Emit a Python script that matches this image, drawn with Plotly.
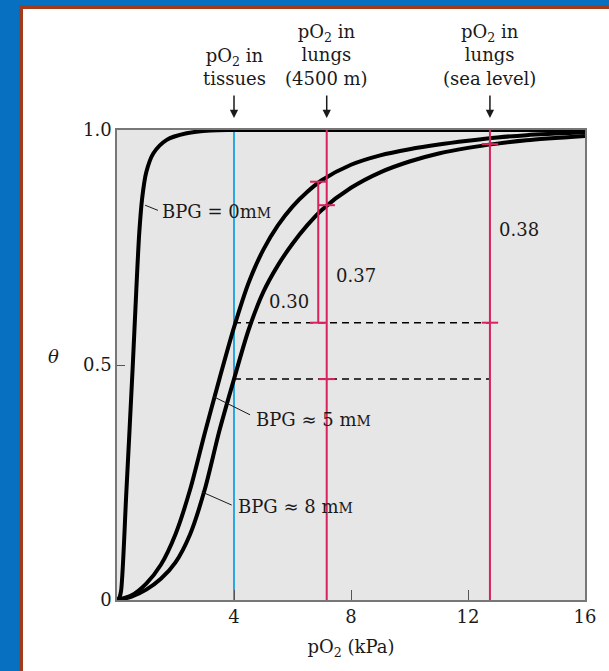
import plotly.graph_objects as go

# Oxygen-binding curves of hemoglobin at three BPG concentrations
po2_bpg0 = [0, 0.08, 0.14, 0.32, 0.54, 0.66, 0.76, 0.86, 1.0, 1.24, 1.7, 2.38, 3.2, 4.0, 16.0]
theta_bpg0 = [0, 0.005, 0.02, 0.23, 0.50, 0.66, 0.78, 0.855, 0.91, 0.95, 0.979, 0.993, 0.999, 1.0, 1.0]

po2_bpg5 = [0, 0.5, 1.0, 1.5, 2.0, 2.5, 3.0, 3.5, 4.0, 4.5, 5.0, 5.5, 6.0, 6.5, 7.0, 8.0, 9.0,
            10.0, 11.0, 12.0, 13.0, 14.0, 16.0]
theta_bpg5 = [0, 0.01, 0.035, 0.075, 0.14, 0.235, 0.355, 0.47, 0.58, 0.675, 0.745, 0.797, 0.837, 0.868, 0.893,
              0.926, 0.946, 0.959, 0.969, 0.977, 0.984, 0.989, 0.995]

po2_bpg8 = [0, 0.5, 1.0, 1.5, 2.0, 2.5, 3.0, 3.5, 4.0, 4.5, 5.0, 5.5, 6.0, 6.5, 7.0, 8.0, 9.0,
            10.0, 11.0, 12.0, 13.0, 14.0, 16.0]
theta_bpg8 = [0, 0.007, 0.022, 0.045, 0.08, 0.14, 0.235, 0.36, 0.47, 0.575, 0.655, 0.712, 0.758, 0.797, 0.83,
              0.877, 0.91, 0.933, 0.95, 0.962, 0.971, 0.978, 0.987]

# Reference pO2 values (kPa)
po2_tissues = 4.0
po2_lungs_4500 = 7.17
po2_lungs_sea = 12.75
po2_bracket_alt5 = 6.88

# Fractional saturation at those pressures
theta_tissue_bpg5 = 0.59
theta_tissue_bpg8 = 0.47
theta_sea_bpg5 = 0.97
theta_alt_bpg5 = 0.89
theta_alt_bpg8 = 0.84

# Axis ticks
x_ticks = [4, 8, 12, 16]
x_tick_text = ["4", "8", "12", "16"]
y_ticks = [0, 0.5, 1.0]
y_tick_text = ["0", "0.5", "1.0"]

FONT = "DejaVu Serif"
FS = 18
INK = "#1a1a1a"
BLUE = "#2aa6e0"
RED = "#d8225c"
SC = '<span style="font-size:14px">M</span>'  # small-capital M for "mM"

fig = go.Figure()

# vertical line at tissue pO2
fig.add_trace(go.Scatter(x=[po2_tissues, po2_tissues], y=[0, 1], mode="lines",
                         line=dict(color=BLUE, width=2), hoverinfo="skip"))

# saturation curves
for xs, ys in [(po2_bpg0, theta_bpg0), (po2_bpg5, theta_bpg5), (po2_bpg8, theta_bpg8)]:
    fig.add_trace(go.Scatter(x=xs, y=ys, mode="lines", cliponaxis=False,
                             line=dict(color="black", width=4, shape="spline", smoothing=0.8),
                             hoverinfo="skip"))

# dashed saturation levels in the tissues
for th in [theta_tissue_bpg5, theta_tissue_bpg8]:
    fig.add_trace(go.Scatter(x=[po2_tissues, po2_lungs_sea], y=[th, th], mode="lines",
                             line=dict(color="black", width=1.5, dash="7px,5px"), hoverinfo="skip"))

# lung pO2 lines
for xv in [po2_lungs_4500, po2_lungs_sea]:
    fig.add_trace(go.Scatter(x=[xv, xv], y=[0, 1], mode="lines",
                             line=dict(color=RED, width=2), hoverinfo="skip"))

# bracket for the 4500 m / 5 mM case
fig.add_trace(go.Scatter(x=[po2_bracket_alt5, po2_bracket_alt5], y=[theta_tissue_bpg5, theta_alt_bpg5],
                         mode="lines", line=dict(color=RED, width=2), hoverinfo="skip"))

# bracket caps
cap_hw = 0.28
caps = [(po2_bracket_alt5, theta_alt_bpg5), (po2_bracket_alt5, theta_tissue_bpg5),
        (po2_lungs_4500, theta_alt_bpg8), (po2_lungs_4500, theta_tissue_bpg8),
        (po2_lungs_sea, theta_sea_bpg5), (po2_lungs_sea, theta_tissue_bpg5)]
for cx, cy in caps:
    fig.add_trace(go.Scatter(x=[cx - cap_hw, cx + cap_hw], y=[cy, cy], mode="lines",
                             line=dict(color=RED, width=2), hoverinfo="skip"))

# leader lines from curve labels
leaders = [((0.96, 0.840), (1.40, 0.829)),
           ((3.29, 0.433), (4.55, 0.394)),
           ((2.90, 0.230), (3.92, 0.202))]
for (x0, y0), (x1, y1) in leaders:
    fig.add_trace(go.Scatter(x=[x0, x1], y=[y0, y1], mode="lines",
                             line=dict(color=INK, width=1), hoverinfo="skip"))

annotations = []
txt = dict(family=FONT, size=FS, color=INK)

# curve labels
for text, x, y in [("BPG = 0m" + SC, 1.48, 0.826),
                   ("BPG \u2248 5 m" + SC, 4.70, 0.385),
                   ("BPG \u2248 8 m" + SC, 4.06, 0.198)]:
    annotations.append(dict(x=x, y=y, xref="x", yref="y", text=text, showarrow=False,
                            xanchor="left", yanchor="middle", font=txt))

# difference labels
diff_labels = [(theta_alt_bpg5 - theta_tissue_bpg5, 5.88, 0.635, "center"),
               (theta_alt_bpg8 - theta_tissue_bpg8, 7.42, 0.691, "left"),
               (theta_sea_bpg5 - theta_tissue_bpg5, 12.98, 0.789, "left")]
for val, x, y, anc in diff_labels:
    annotations.append(dict(x=x, y=y, xref="x", yref="y", text=f"{val:.2f}", showarrow=False,
                            xanchor=anc, yanchor="middle", font=txt))

# top captions with arrows
captions = [(po2_tissues, "pO<sub>2</sub> in<br>tissues"),
            (po2_lungs_4500, "pO<sub>2</sub> in<br>lungs<br>(4500 m)"),
            (po2_lungs_sea, "pO<sub>2</sub> in<br>lungs<br>(sea level)")]
for xv, text in captions:
    annotations.append(dict(x=xv, y=1.083, xref="x", yref="paper", text=text, showarrow=False,
                            xanchor="center", yanchor="bottom", align="center", font=txt))
    annotations.append(dict(x=xv, y=1.0255, xref="x", yref="paper", text="", showarrow=True,
                            ax=0, ay=-24, axref="pixel", ayref="pixel",
                            arrowhead=2, arrowsize=1.1, arrowwidth=1.5, arrowcolor=INK))

# y-axis symbol
annotations.append(dict(x=-0.152, y=0.519, xref="paper", yref="paper", text="<i>\u03b8</i>",
                        showarrow=False, font=txt))

# page frame (blue band with a rust-coloured rule)
W, H = 609, 671
L, R, T, B = 117, 24, 130, 71
pw, ph = W - L - R, H - T - B


def px(x):
    return (x - L) / pw


def py(y):
    return (H - B - y) / ph


shapes = [
    dict(type="rect", xref="paper", yref="paper", x0=px(0), x1=px(19), y0=py(H), y1=py(0),
         fillcolor="#0870c0", line_width=0, layer="below"),
    dict(type="rect", xref="paper", yref="paper", x0=px(0), x1=px(W), y0=py(5), y1=py(0),
         fillcolor="#0870c0", line_width=0, layer="below"),
    dict(type="rect", xref="paper", yref="paper", x0=px(19), x1=px(23), y0=py(H), y1=py(5),
         fillcolor="#a23b1c", line_width=0, layer="below"),
    dict(type="rect", xref="paper", yref="paper", x0=px(19), x1=px(W), y0=py(9), y1=py(5),
         fillcolor="#a23b1c", line_width=0, layer="below"),
]

fig.update_layout(
    width=W, height=H,
    margin=dict(l=L, r=R, t=T, b=B),
    paper_bgcolor="white",
    plot_bgcolor="#e6e6e6",
    showlegend=False,
    font=dict(family=FONT, size=FS, color=INK),
    annotations=annotations,
    shapes=shapes,
    xaxis=dict(range=[0, 16], tickvals=x_ticks, ticktext=x_tick_text, ticks="inside", ticklen=10,
               tickcolor="#555", tickwidth=1, showgrid=False, zeroline=False,
               showline=True, linecolor="#777", linewidth=1.5, mirror=True,
               tickfont=dict(family=FONT, size=FS, color=INK),
               title=dict(text="pO<sub>2</sub> (kPa)", standoff=14, font=dict(family=FONT, size=FS, color=INK))),
    yaxis=dict(range=[0, 1], tickvals=y_ticks, ticktext=y_tick_text, ticks="inside", ticklen=8,
               tickcolor="#555", tickwidth=1, showgrid=False, zeroline=False,
               showline=True, linecolor="#777", linewidth=1.5, mirror=True,
               tickfont=dict(family=FONT, size=FS, color=INK)),
)

fig.write_html("out.html")
